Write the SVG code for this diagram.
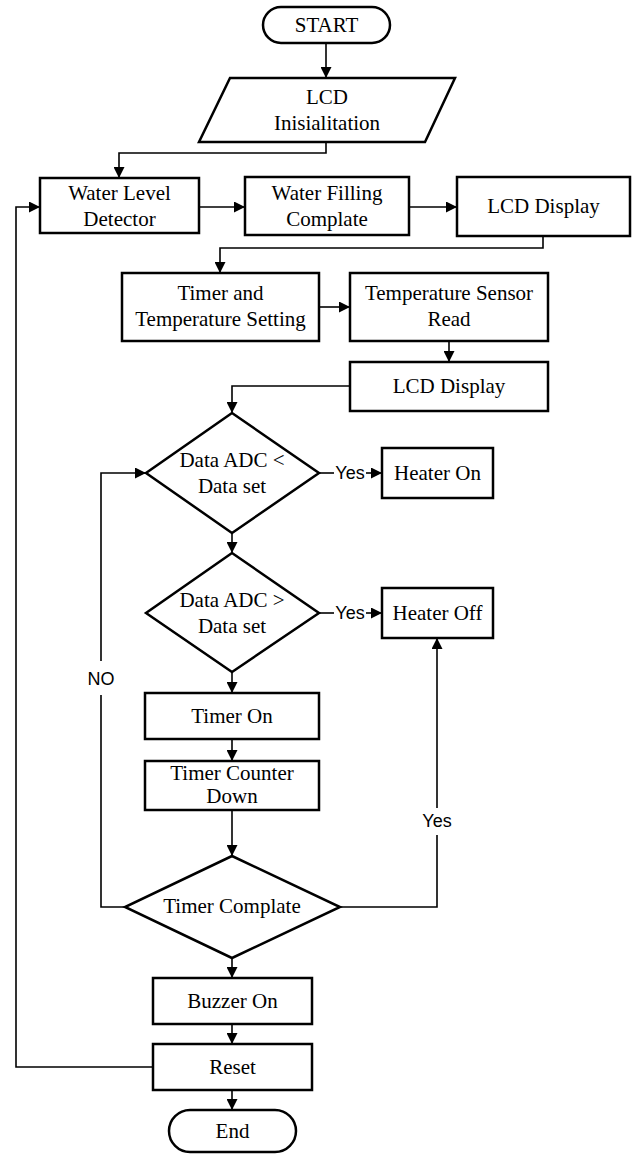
<svg xmlns="http://www.w3.org/2000/svg" width="637" height="1156" viewBox="0 0 637 1156">
<defs>
<marker id="arr" viewBox="0 0 10 10" refX="10" refY="5" markerWidth="11" markerHeight="11" orient="auto" markerUnits="userSpaceOnUse"><path d="M0,0 L10,5 L0,10 z" fill="#000"/></marker>
<style>
.sh{fill:#fff;stroke:#000;stroke-width:2.5}
.t{font-family:"Liberation Serif","Times New Roman",serif;font-size:21px;text-anchor:middle;fill:#000}
.s{font-family:"Liberation Sans",Arial,sans-serif;font-size:18px;text-anchor:middle;fill:#000}
.c{fill:none;stroke:#000;stroke-width:1.6}
.a{marker-end:url(#arr)}
</style>
</defs>
<rect width="637" height="1156" fill="#fff"/>
<g id="connectors">
<path class="c a" d="M326,43 V78"/>
<path class="c a" d="M326,142 V153 H119 V178"/>
<path class="c a" d="M199,207 H245"/>
<path class="c a" d="M409,207 H457"/>
<path class="c a" d="M543,236 V248 H220 V273"/>
<path class="c a" d="M319,307 H350"/>
<path class="c a" d="M449,341 V362"/>
<path class="c a" d="M350,386 H232 V413"/>
<path class="c" d="M319,473 H334"/>
<text class="s" x="350" y="479">Yes</text>
<path class="c a" d="M366,473 H382"/>
<path class="c a" d="M232,533 V553"/>
<path class="c" d="M319,613 H334"/>
<text class="s" x="350" y="619">Yes</text>
<path class="c a" d="M366,613 H382"/>
<path class="c a" d="M232,672 V693"/>
<path class="c a" d="M232,739 V761"/>
<path class="c a" d="M232,810 V856"/>
<path class="c a" d="M232,958 V978"/>
<path class="c a" d="M232,1024 V1044"/>
<path class="c a" d="M232,1090 V1110"/>
<path class="c" d="M125,907 H101 V695"/>
<text class="s" x="101" y="685">NO</text>
<path class="c a" d="M101,661 V473 H146"/>
<path class="c" d="M340,907 H437 V835"/>
<text class="s" x="437" y="827">Yes</text>
<path class="c a" d="M437,808 V638"/>
<path class="c a" d="M153,1067 H16 V207 H40"/>
</g>
<g id="start"><rect class="sh" x="263" y="7" width="127" height="36" rx="18"/><text class="t" x="326.5" y="32">START</text></g>
<g id="lcd-init"><polygon class="sh" points="230,78 455,78 425,142 199,142"/><text class="t" x="327" y="104">LCD</text><text class="t" x="327" y="130">Inisialitation</text></g>
<g id="water-level"><rect class="sh" x="40" y="178" width="159" height="55"/><text class="t" x="119.5" y="200">Water Level</text><text class="t" x="119.5" y="226">Detector</text></g>
<g id="water-filling"><rect class="sh" x="245" y="177" width="164" height="58"/><text class="t" x="327" y="200">Water Filling</text><text class="t" x="327" y="226">Complate</text></g>
<g id="lcd-display-1"><rect class="sh" x="457" y="177" width="173" height="59"/><text class="t" x="543.5" y="213">LCD Display</text></g>
<g id="timer-setting"><rect class="sh" x="122" y="273" width="197" height="68"/><text class="t" x="220.5" y="300">Timer and</text><text class="t" x="220.5" y="326">Temperature Setting</text></g>
<g id="temp-sensor"><rect class="sh" x="350" y="273" width="198" height="68"/><text class="t" x="449" y="300">Temperature Sensor</text><text class="t" x="449" y="326">Read</text></g>
<g id="lcd-display-2"><rect class="sh" x="350" y="362" width="198" height="49"/><text class="t" x="449" y="393">LCD Display</text></g>
<g id="decision-1"><polygon class="sh" points="232,413 319,473 232,533 146,473"/><text class="t" x="232" y="467">Data ADC &lt;</text><text class="t" x="232" y="493">Data set</text></g>
<g id="heater-on"><rect class="sh" x="382" y="448" width="111" height="50"/><text class="t" x="437.5" y="480">Heater On</text></g>
<g id="decision-2"><polygon class="sh" points="232,553 319,613 232,672 146,613"/><text class="t" x="232" y="607">Data ADC &gt;</text><text class="t" x="232" y="633">Data set</text></g>
<g id="heater-off"><rect class="sh" x="382" y="588" width="111" height="50"/><text class="t" x="437.5" y="620">Heater Off</text></g>
<g id="timer-on"><rect class="sh" x="145" y="693" width="174" height="46"/><text class="t" x="232" y="723">Timer On</text></g>
<g id="timer-counter"><rect class="sh" x="145" y="761" width="174" height="49"/><text class="t" x="232" y="780">Timer Counter</text><text class="t" x="232" y="803">Down</text></g>
<g id="decision-3"><polygon class="sh" points="232,856 340,907 232,958 125,907"/><text class="t" x="232" y="913">Timer Complate</text></g>
<g id="buzzer-on"><rect class="sh" x="153" y="978" width="159" height="46"/><text class="t" x="232.5" y="1008">Buzzer On</text></g>
<g id="reset"><rect class="sh" x="153" y="1044" width="159" height="46"/><text class="t" x="232.5" y="1074">Reset</text></g>
<g id="end"><rect class="sh" x="169" y="1110" width="127" height="42" rx="21"/><text class="t" x="232.5" y="1138">End</text></g>
</svg>
